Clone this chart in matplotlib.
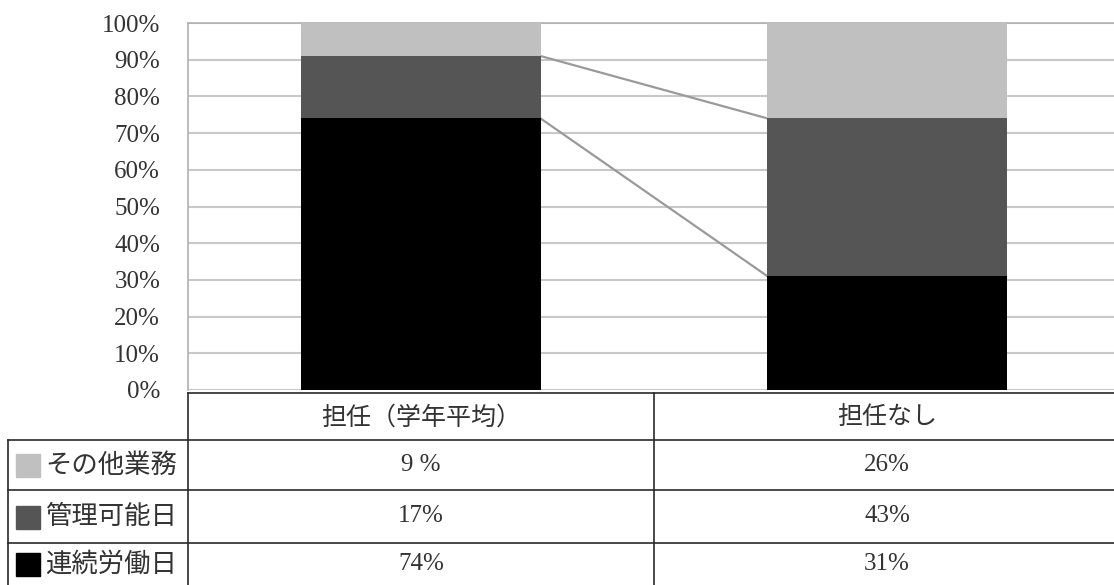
import numpy as np
import matplotlib
matplotlib.use('Agg')
import matplotlib.pyplot as plt
from matplotlib.patches import Rectangle

categories = ['担任（学年平均）', '担任なし']
series_names = ['その他業務', '管理可能日', '連続労働日']
other = [9, 26]
manageable = [17, 43]
consecutive = [74, 31]
yticks = [0, 10, 20, 30, 40, 50, 60, 70, 80, 90, 100]

colors = {'その他業務': '#c0c0c0', '管理可能日': '#555555', '連続労働日': '#000000'}
series_values = {'その他業務': other, '管理可能日': manageable, '連続労働日': consecutive}

jp_font = ['Noto Sans CJK JP', 'DejaVu Sans']
num_font = ['Liberation Serif', 'DejaVu Serif']

W, H = 1114, 585
fig = plt.figure(figsize=(W / 100, H / 100), dpi=100)
fig.patch.set_facecolor('white')

# plot area in pixel terms (right edge runs just past the image)
px_left, px_right, px_top, px_bottom = 188, 1120, 23, 390
ax = fig.add_axes([px_left / W, (H - px_bottom) / H,
                   (px_right - px_left) / W, (px_bottom - px_top) / H])

x = np.arange(len(categories))
bar_w = 0.513
bottom = np.zeros(len(categories))
for name in ['連続労働日', '管理可能日', 'その他業務']:
    vals = np.array(series_values[name], dtype=float)
    ax.bar(x, vals, bar_w, bottom=bottom, color=colors[name], zorder=3)
    bottom += vals

# series lines between the bars
lower = np.array(consecutive, dtype=float)
upper = lower + np.array(manageable, dtype=float)
for level in (lower, upper):
    ax.plot([x[0] + bar_w / 2, x[1] - bar_w / 2], [level[0], level[1]],
            color='#9a9a9a', lw=1.6, zorder=2)

ax.set_xlim(-0.5, 1.5)
ax.set_ylim(0, 100)
ax.set_yticks(yticks)
ax.set_yticklabels([f'{t}%' for t in yticks], fontfamily=num_font, fontsize=18,
                   color='#333333')
ax.tick_params(axis='y', length=0, pad=20)
ax.set_xticks([])
ax.grid(axis='y', color='#c8c8c8', lw=1.5, zorder=0)
ax.set_axisbelow(True)
for side in ['right', 'bottom']:
    ax.spines[side].set_visible(False)
for side in ['left', 'top']:
    ax.spines[side].set_color('#b0b0b0')
    ax.spines[side].set_linewidth(1.2)

# data table below the chart, drawn in pixel coordinates
tab = fig.add_axes([0, 0, 1, 1])
tab.set_xlim(0, W)
tab.set_ylim(H, 0)
tab.axis('off')
tab.patch.set_alpha(0)

col_edges = [px_left, 654, px_right]
row_edges = [393, 440, 490, 543, 585]
line_kw = dict(color='#2a2a2a', lw=1.2)
tab.plot([px_left, W], [row_edges[0]] * 2, **line_kw)
for y in row_edges[1:4]:
    tab.plot([8, W], [y, y], **line_kw)
tab.plot([8, 8], [row_edges[1], H], **line_kw)
for cx in col_edges[:2]:
    tab.plot([cx, cx], [row_edges[0], H], **line_kw)

centers = [(col_edges[i] + col_edges[i + 1]) / 2 for i in range(len(categories))]
for cx, cat in zip(centers, categories):
    tab.text(cx, (row_edges[0] + row_edges[1]) / 2 + 1, cat, ha='center', va='center',
             fontfamily=jp_font, fontsize=18, color='#333333')

for r, name in enumerate(series_names):
    yc = (row_edges[r + 1] + row_edges[r + 2]) / 2
    tab.add_patch(Rectangle((16, yc - 11), 24, 23, color=colors[name]))
    tab.text(45, yc, name, ha='left', va='center', fontfamily=jp_font,
             fontsize=19, color='#333333')
    for cx, v in zip(centers, series_values[name]):
        label = f'{v} %' if v < 10 else f'{v}%'
        tab.text(cx, yc, label, ha='center', va='center', fontfamily=num_font,
                 fontsize=18, color='#333333')

fig.savefig('out.png', dpi=100)
